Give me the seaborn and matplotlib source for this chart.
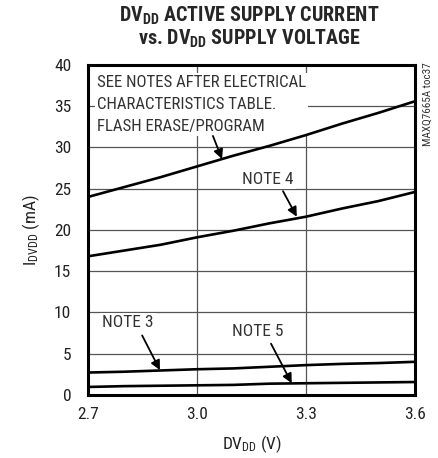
import numpy as np
import pandas as pd
import matplotlib.pyplot as plt
import seaborn as sns

sns.set_theme(style="white")
plt.rcParams["font.family"] = ["Roboto Condensed", "Liberation Sans", "DejaVu Sans"]
plt.rcParams["mathtext.default"] = "regular"

voltage = [2.7, 2.8, 2.9, 3.0, 3.1, 3.2, 3.3, 3.4, 3.5, 3.6]
flash = [24.0, 25.2, 26.4, 27.7, 29.0, 30.2, 31.5, 32.9, 34.2, 35.6]
note4 = [16.8, 17.5, 18.2, 19.1, 19.9, 20.8, 21.6, 22.6, 23.5, 24.6]
note3 = [2.7, 2.8, 2.95, 3.1, 3.2, 3.4, 3.6, 3.75, 3.85, 4.0]
note5 = [0.95, 1.05, 1.1, 1.15, 1.2, 1.35, 1.4, 1.45, 1.5, 1.55]

df = pd.DataFrame({
    "v": voltage * 4,
    "i": flash + note4 + note3 + note5,
    "curve": ["flash"] * 10 + ["note4"] * 10 + ["note3"] * 10 + ["note5"] * 10,
})

fig = plt.figure(figsize=(4.38, 4.58), dpi=100)
ax = fig.add_axes([0.201, 0.138, 0.746, 0.72])

ax.set_xlim(2.7, 3.6)
ax.set_ylim(0, 40)
ax.set_xticks([2.7, 3.0, 3.3, 3.6])
ax.set_xticklabels(["2.7", "3.0", "3.3", "3.6"])
ax.set_yticks(range(0, 41, 5))
ax.grid(True, color="#555555", linewidth=0.9)
ax.set_axisbelow(True)

sns.lineplot(data=df, x="v", y="i", units="curve", estimator=None,
             color="black", linewidth=1.9, ax=ax, zorder=5)

for s in ax.spines.values():
    s.set_linewidth(2.2)
    s.set_color("black")
ax.tick_params(length=0, labelsize=12.5, colors="#222222")
ax.tick_params(axis="x", pad=9)
ax.tick_params(axis="y", pad=12)

ax.set_xlabel("DV$_{DD}$ (V)", fontsize=12.5, color="#222222", labelpad=8)
ax.set_ylabel("I$_{DVDD}$ (mA)", fontsize=12.5, color="#222222", labelpad=9)

fig.suptitle("DV$_{DD}$ ACTIVE SUPPLY CURRENT\nvs. DV$_{DD}$ SUPPLY VOLTAGE",
             x=0.57, y=0.99, fontsize=14.5, fontweight="bold", linespacing=1.05)

box = dict(facecolor="white", edgecolor="none", pad=1.5)
arrow = dict(arrowstyle="-|>", color="black", lw=1.3, mutation_scale=14,
             shrinkA=0, shrinkB=0)

ax.text(2.725, 38.8, "SEE NOTES AFTER ELECTRICAL\nCHARACTERISTICS TABLE.\nFLASH ERASE/PROGRAM",
        ha="left", va="top", fontsize=12.2, color="#333333", linespacing=1.6,
        bbox=box, zorder=4)
ax.annotate("", xy=(3.069, 28.6), xytext=(3.044, 31.4), arrowprops=arrow, zorder=6)

ax.text(3.195, 26.1, "NOTE 4", ha="center", va="center", fontsize=12.5,
        color="#333333", bbox=box, zorder=4)
ax.annotate("", xy=(3.275, 21.6), xytext=(3.237, 24.7), arrowprops=arrow, zorder=6)

ax.text(2.81, 8.8, "NOTE 3", ha="center", va="center", fontsize=12.5,
        color="#333333", bbox=box, zorder=4)
ax.annotate("", xy=(2.898, 3.0), xytext=(2.849, 7.2), arrowprops=arrow, zorder=6)

ax.text(3.168, 7.7, "NOTE 5", ha="center", va="center", fontsize=12.5,
        color="#333333", bbox=box, zorder=4)
ax.annotate("", xy=(3.261, 1.4), xytext=(3.204, 6.2), arrowprops=arrow, zorder=6)

fig.text(0.977, 0.865, "MAXQ7665A toc37", rotation=90, ha="center", va="top",
         fontsize=8, color="#333333")

plt.savefig("out.png", dpi=100)
